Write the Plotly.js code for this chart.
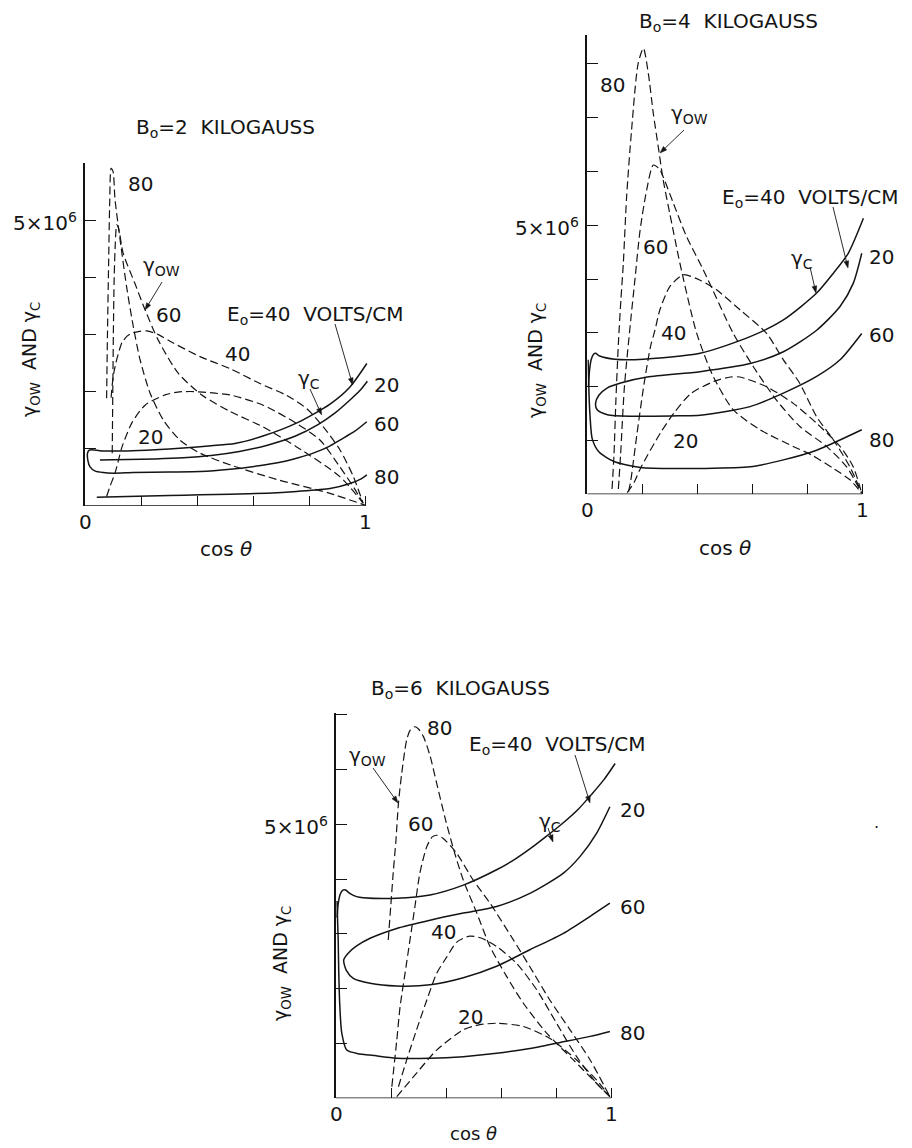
<!DOCTYPE html>
<html><head><meta charset="utf-8">
<script src="https://cdn.plot.ly/plotly-3.0.1.min.js"></script>
<style>html,body{margin:0;padding:0;background:#fff;}#chart{width:912px;height:1148px;}</style>
</head><body><div id="chart"></div>
<script>
// ---------- DATA (y in units of 10^6) ----------
const xTickVals = [0, 0.2, 0.4, 0.6, 0.8, 1];
const xTickLabels = [[0, "0"], [1, "1"]];
const yTickLabel = [5, "5\u00d710<sup>6</sup>"];

// B0 = 2 kilogauss : gamma_OW (dashed)
const b2_ow80_x = [0.077,0.080,0.084,0.088,0.093,0.100,0.107,0.125,0.148,0.172,0.196,0.232,0.279,0.338,0.41,0.52,0.69,0.87,0.997];
const b2_ow80_y = [1.88,3.0,4.2,5.3,5.91,5.85,5.36,4.66,3.84,3.14,2.56,1.97,1.50,1.15,0.92,0.71,0.45,0.22,0.01];
const b2_ow60_x = [0.097,0.099,0.101,0.104,0.108,0.113,0.120,0.136,0.178,0.214,0.261,0.332,0.416,0.517,0.634,0.754,0.908,0.990];
const b2_ow60_y = [0.92,2.0,3.0,4.0,4.6,4.92,4.85,4.42,3.89,3.43,2.90,2.32,1.94,1.65,1.38,1.03,0.51,0.05];
const b2_ow40_x = [0.093,0.100,0.110,0.122,0.132,0.150,0.167,0.190,0.220,0.260,0.303,0.410,0.517,0.623,0.719,0.790,0.849,0.908,0.956,0.991];
const b2_ow40_y = [1.89,2.25,2.50,2.72,2.86,2.97,3.02,3.05,3.06,3.0,2.88,2.61,2.40,2.14,1.93,1.70,1.38,0.98,0.51,0.04];
const b2_ow20_x = [0.077,0.090,0.107,0.132,0.167,0.214,0.285,0.330,0.374,0.420,0.463,0.517,0.635,0.754,0.837,0.908,0.960,0.990];
const b2_ow20_y = [0.16,0.35,0.57,1.03,1.45,1.76,1.94,1.99,2.00,1.99,1.97,1.94,1.76,1.44,1.15,0.68,0.3,0.05];
// B0 = 2 kilogauss : gamma_C (solid)
const b2_c40_x = [0.024,0.06,0.15,0.25,0.35,0.45,0.534,0.634,0.755,0.873,0.944,1.004];
const b2_c40_y = [0.98,0.96,0.96,0.98,1.01,1.05,1.09,1.22,1.45,1.78,2.08,2.49];
const b2_c60_x = [0.024,0.014,0.009,0.010,0.018,0.035,0.065,0.10,0.172,0.30,0.41,0.517,0.62,0.695,0.76,0.813,0.87,0.908,0.96,1.004];
const b2_c60_y = [0.98,0.97,0.92,0.80,0.68,0.61,0.58,0.57,0.58,0.59,0.60,0.64,0.70,0.76,0.84,0.92,1.04,1.15,1.30,1.47];
const b2_c20_x = [0.053,0.15,0.25,0.35,0.45,0.55,0.65,0.75,0.83,0.89,0.944,0.98,1.006];
const b2_c20_y = [0.80,0.81,0.82,0.84,0.88,0.95,1.06,1.22,1.42,1.62,1.85,2.02,2.18];
const b2_c80_x = [0.042,0.15,0.3,0.41,0.517,0.65,0.754,0.873,0.944,0.98,1.004];
const b2_c80_y = [0.15,0.16,0.18,0.19,0.20,0.22,0.25,0.30,0.39,0.46,0.54];

// B0 = 4 kilogauss
const b4_ow80_x = [0.090,0.097,0.104,0.113,0.122,0.131,0.143,0.161,0.185,0.204,0.222,0.24,0.258,0.276,0.3,0.337,0.398,0.458,0.531,0.628,0.749,0.816,0.895,0.955,0.998];
const b4_ow80_y = [0.1,0.73,1.75,2.8,3.6,4.29,5.53,6.77,8.01,8.29,7.82,7.08,6.46,5.84,5.22,4.29,2.99,2.19,1.57,1.20,0.89,0.73,0.48,0.27,0.02];
const b4_ow60_x = [0.113,0.121,0.135,0.158,0.173,0.192,0.216,0.24,0.262,0.276,0.313,0.361,0.422,0.531,0.604,0.688,0.773,0.87,0.943,0.998];
const b4_ow60_y = [0.1,0.73,2.0,3.24,3.98,4.91,5.66,6.12,6.05,5.90,5.41,4.79,4.17,2.99,2.37,1.75,1.26,0.89,0.51,0.02];
const b4_ow40_x = [0.150,0.158,0.18,0.206,0.23,0.246,0.264,0.30,0.349,0.41,0.47,0.555,0.652,0.713,0.773,0.834,0.895,0.955,0.998];
const b4_ow40_y = [0.05,0.25,1.1,2.04,2.75,3.05,3.43,3.86,4.08,3.98,3.80,3.43,2.99,2.50,2.06,1.44,1.01,0.51,0.02];
const b4_ow20_x = [0.145,0.17,0.194,0.267,0.315,0.376,0.461,0.52,0.555,0.652,0.749,0.834,0.919,0.967,0.998];
const b4_ow20_y = [0.03,0.22,0.49,1.15,1.51,1.87,2.10,2.18,2.18,2.0,1.69,1.32,0.89,0.51,0.02];
const b4_c40_x = [0.004,0.008,0.014,0.022,0.030,0.045,0.1,0.204,0.41,0.592,0.713,0.834,0.895,0.949,1.004];
const b4_c40_y = [2.0,2.3,2.5,2.6,2.62,2.57,2.51,2.51,2.62,2.93,3.24,3.74,4.11,4.48,5.13];
const b4_c20_x = [0.998,0.967,0.919,0.834,0.713,0.592,0.41,0.218,0.121,0.073,0.042,0.030];
const b4_c20_y = [4.48,3.92,3.49,3.05,2.65,2.43,2.28,2.18,2.07,1.98,1.84,1.69];
const b4_c60_x = [0.030,0.036,0.073,0.158,0.339,0.41,0.592,0.713,0.834,0.919,0.998];
const b4_c60_y = [1.69,1.57,1.48,1.45,1.46,1.47,1.63,1.88,2.19,2.50,2.99];
const b4_c80_x = [0.003,0.005,0.007,0.010,0.018,0.042,0.097,0.194,0.339,0.41,0.592,0.713,0.834,0.998];
const b4_c80_y = [2.5,2.1,1.75,1.45,1.03,0.79,0.61,0.50,0.48,0.48,0.51,0.64,0.82,1.20];

// B0 = 6 kilogauss
const b6_ow80_x = [0.190,0.199,0.208,0.218,0.227,0.239,0.257,0.27,0.287,0.30,0.318,0.342,0.366,0.40,0.43,0.463,0.512,0.56,0.621,0.682,0.766,0.863,0.936,0.996];
const b6_ow80_y = [2.89,3.50,4.11,4.71,5.38,5.93,6.54,6.72,6.78,6.74,6.60,6.25,5.75,5.05,4.5,3.98,3.38,2.77,2.22,1.73,1.19,0.70,0.33,0.03];
const b6_ow60_x = [0.203,0.221,0.233,0.251,0.269,0.287,0.305,0.33,0.35,0.366,0.39,0.439,0.499,0.56,0.645,0.705,0.778,0.851,0.924,0.996];
const b6_ow60_y = [0.21,1.06,1.67,2.28,2.89,3.50,4.11,4.59,4.77,4.80,4.74,4.47,3.98,3.56,2.89,2.40,1.79,1.25,0.70,0.03];
const b6_ow40_x = [0.227,0.257,0.293,0.33,0.366,0.403,0.439,0.487,0.53,0.584,0.657,0.73,0.802,0.875,0.948,0.996];
const b6_ow40_y = [0.21,0.70,1.25,1.79,2.28,2.58,2.85,2.96,2.92,2.77,2.46,1.98,1.37,0.76,0.27,0.03];
const b6_ow20_x = [0.221,0.293,0.366,0.463,0.52,0.584,0.681,0.778,0.875,0.948,0.996];
const b6_ow20_y = [0.03,0.46,0.88,1.25,1.34,1.37,1.31,1.09,0.70,0.33,0.03];
const b6_c40_x = [0.004,0.008,0.015,0.025,0.035,0.05,0.075,0.099,0.221,0.342,0.463,0.584,0.65,0.705,0.76,0.82,0.88,0.93,0.975,1.015];
const b6_c40_y = [3.3,3.55,3.72,3.8,3.80,3.74,3.68,3.66,3.65,3.71,3.89,4.17,4.36,4.55,4.76,5.0,5.27,5.55,5.82,6.11];
const b6_c20_x = [0.996,0.948,0.887,0.827,0.705,0.584,0.463,0.342,0.221,0.124,0.075,0.045,0.028];
const b6_c20_y = [5.32,4.84,4.41,4.11,3.74,3.50,3.38,3.25,3.10,2.92,2.78,2.65,2.52];
const b6_c60_x = [0.028,0.038,0.063,0.124,0.221,0.342,0.463,0.584,0.705,0.827,0.924,0.996];
const b6_c60_y = [2.52,2.33,2.19,2.10,2.05,2.07,2.20,2.41,2.71,3.01,3.32,3.56];
const b6_c80_x = [0.004,0.006,0.008,0.010,0.014,0.021,0.039,0.085,0.124,0.221,0.342,0.463,0.584,0.705,0.827,0.924,0.996];
const b6_c80_y = [3.6,3.2,2.89,2.3,1.67,1.19,0.88,0.81,0.79,0.73,0.73,0.76,0.82,0.91,1.03,1.13,1.22];

// ---------- LAYOUT ----------
const W = 912, H = 1148;
const INK = '#141414';
const FONT = 'DejaVu Sans';
const PX = x => x / W, PY = y => 1 - y / H;

function tr(x, y, ax, dashed) {
  return {type:'scatter', mode:'lines', x:x, y:y, xaxis:'x'+ax, yaxis:'y'+ax, hoverinfo:'skip',
    line:{color:INK, width: dashed ? 1.2 : 1.5, dash: dashed ? '8px,4px' : 'solid', shape:'spline', smoothing:0.7}};
}
const rev = a => a.slice().reverse();

const data = [
  tr(b2_ow80_x,b2_ow80_y,'',true), tr(b2_ow60_x,b2_ow60_y,'',true),
  tr(b2_ow40_x,b2_ow40_y,'',true), tr(b2_ow20_x,b2_ow20_y,'',true),
  tr(rev(b2_c40_x).concat(b2_c60_x.slice(1)), rev(b2_c40_y).concat(b2_c60_y.slice(1)),'',false),
  tr(b2_c20_x,b2_c20_y,'',false), tr(b2_c80_x,b2_c80_y,'',false),

  tr(b4_ow80_x,b4_ow80_y,'2',true), tr(b4_ow60_x,b4_ow60_y,'2',true),
  tr(b4_ow40_x,b4_ow40_y,'2',true), tr(b4_ow20_x,b4_ow20_y,'2',true),
  tr(b4_c40_x,b4_c40_y,'2',false),
  tr(b4_c20_x.concat(b4_c60_x.slice(1)), b4_c20_y.concat(b4_c60_y.slice(1)),'2',false),
  tr(b4_c80_x,b4_c80_y,'2',false),

  tr(b6_ow80_x,b6_ow80_y,'3',true), tr(b6_ow60_x,b6_ow60_y,'3',true),
  tr(b6_ow40_x,b6_ow40_y,'3',true), tr(b6_ow20_x,b6_ow20_y,'3',true),
  tr(b6_c40_x,b6_c40_y,'3',false),
  tr(b6_c20_x.concat(b6_c60_x.slice(1)), b6_c20_y.concat(b6_c60_y.slice(1)),'3',false),
  tr(b6_c80_x,b6_c80_y,'3',false)
];

const XMAX = 1.03;
const TS = 20;
function xax(x0, unit, anchor) {
  return {domain:[PX(x0), PX(x0 + unit * XMAX)], range:[0, XMAX], anchor:anchor,
    showgrid:false, zeroline:false, showline:false, ticks:'inside', ticklen:10, tickwidth:1.2, tickcolor:INK,
    tickvals:xTickVals, showticklabels:false, fixedrange:true};
}
function yax(yb, unit, ymax, anchor, nTicks) {
  const tv = [];
  for (let i = 0; i <= nTicks; i++) tv.push(i);
  return {domain:[PY(yb), PY(yb - unit * ymax)], range:[0, ymax], anchor:anchor,
    showgrid:false, zeroline:false, showline:true, linewidth:1.5, linecolor:INK,
    ticks:'inside', ticklen:11, tickwidth:1.2, tickcolor:INK, tickvals:tv, showticklabels:false, fixedrange:true};
}

function lab(text, x, y, size, anchor) {
  return {text:text, x:PX(x), y:PY(y), xref:'paper', yref:'paper', showarrow:false,
    xanchor:anchor || 'center', yanchor:'middle', font:{family:FONT, size:size || 20, color:INK}};
}
function rlab(text, x, y) {
  const a = lab(text, x, y, 19); a.textangle = -90; return a;
}
// tick labels tied to each subplot's axes
function tickLabels(ax) {
  const out = xTickLabels.map(t => ({text:t[1], x:t[0], y:0, xref:'x'+ax, yref:'y'+ax, showarrow:false,
    xanchor:'center', yanchor:'top', yshift:-2, font:{family:FONT, size:TS, color:INK}}));
  out.push({text:yTickLabel[1], x:0, y:yTickLabel[0], xref:'x'+ax, yref:'y'+ax, showarrow:false,
    xanchor:'right', yanchor:'middle', xshift:-6, yshift:-2, font:{family:FONT, size:TS, color:INK}});
  return out;
}

const NB = '\u00a0';
const GOW = '\u03b3<sub>OW</sub>', GC = '\u03b3<sub>C</sub>';
const EO = 'E<sub>o</sub>=40' + NB + NB + 'VOLTS/CM';
const YT = '\u03b3<sub>OW</sub>' + NB + NB + 'AND' + NB + '\u03b3<sub>C</sub>';
const COS = 'cos' + NB + '<i>\u03b8</i>';
const TTL = n => 'B<sub>o</sub>=' + n + NB + NB + 'KILOGAUSS';

const annotations = [
  // B0 = 2
  lab(TTL('2'), 225, 128),
  lab('80', 140, 184), lab(GOW, 161, 266), lab('60', 168, 315),
  lab(EO, 315, 315), lab('40', 238, 354), lab(GC, 309, 379),
  lab('20', 372, 385, 20, 'left'), lab('60', 372, 424, 20, 'left'), lab('80', 372, 477, 20, 'left'),
  lab('20', 150, 437),
  rlab(YT, 30, 360), lab(COS, 226, 549),

  // B0 = 4
  lab(TTL('4'), 728, 22),
  lab('80', 612, 85), lab(GOW, 689, 114), lab('60', 655, 247), lab('40', 673, 333), lab('20', 685, 441),
  lab(EO, 810, 198), lab(GC, 802, 259),
  lab('20', 867, 257, 20, 'left'), lab('60', 867, 335, 20, 'left'), lab('80', 867, 440, 20, 'left'),
  rlab(YT, 536, 361), lab(COS, 725, 548),

  // B0 = 6
  lab(TTL('6'), 460, 689),
  lab('80', 439, 728), lab(GOW, 367, 756), lab('60', 420, 824), lab('40', 443, 932), lab('20', 470, 1017),
  lab(EO, 557, 745), lab(GC, 550, 822),
  lab('20', 618, 810, 20, 'left'), lab('60', 618, 907, 20, 'left'), lab('80', 618, 1033, 20, 'left'),
  rlab(YT, 281, 964), lab(COS, 473, 1133, 18),
  lab('.', 876, 822, 16)
].concat(tickLabels(''), tickLabels('2'), tickLabels('3'));

// leader arrows drawn as shapes (line + small filled head)
function arrow(tx, ty, hx, hy) {
  const dx = hx - tx, dy = hy - ty, L = Math.hypot(dx, dy);
  const ux = dx / L, uy = dy / L, nx = -uy, ny = ux;
  const bx = hx - 7 * ux, by = hy - 7 * uy;
  const p = (x, y) => PX(x) + ',' + PY(y);
  return [
    {type:'line', xref:'paper', yref:'paper', x0:PX(tx), y0:PY(ty), x1:PX(bx), y1:PY(by), line:{color:INK, width:0.9}},
    {type:'path', xref:'paper', yref:'paper', path:'M' + p(hx, hy) + ' L' + p(bx + 2.4 * nx, by + 2.4 * ny) +
      ' L' + p(bx - 2.4 * nx, by - 2.4 * ny) + ' Z', fillcolor:INK, line:{color:INK, width:0.5}}
  ];
}

function baseLine(ax) {
  return {type:'line', xref:'x'+ax, yref:'y'+ax, x0:0, x1:1, y0:0, y1:0, line:{color:INK, width:1.5}};
}

const shapes = [baseLine(''), baseLine('2'), baseLine('3')].concat(
  arrow(162, 282, 145, 310), arrow(335, 324, 352.7, 385), arrow(310, 389, 321.7, 415),
  arrow(684, 130, 660, 153), arrow(833, 207, 848, 268), arrow(810, 267, 816, 293),
  arrow(373, 768, 398, 803), arrow(575, 755, 590, 803), arrow(548, 828, 553, 842)
);

const layout = {
  width:W, height:H, margin:{l:0, r:0, t:0, b:0},
  paper_bgcolor:'#ffffff', plot_bgcolor:'rgba(0,0,0,0)', showlegend:false,
  font:{family:FONT, color:INK, size:18},
  xaxis: xax(85, 280.7, 'y'),   yaxis: yax(505.7, 57.1, 6.0, 'x', 6),
  xaxis2: xax(587.3, 275, 'y2'), yaxis2: yax(494.3, 53.8, 8.54, 'x2', 8),
  xaxis3: xax(336, 275, 'y3'),  yaxis3: yax(1098.3, 54.8, 7.04, 'x3', 7),
  shapes:shapes,
  annotations:annotations
};

Plotly.newPlot('chart', data, layout, {displayModeBar:false});
</script></body></html>
